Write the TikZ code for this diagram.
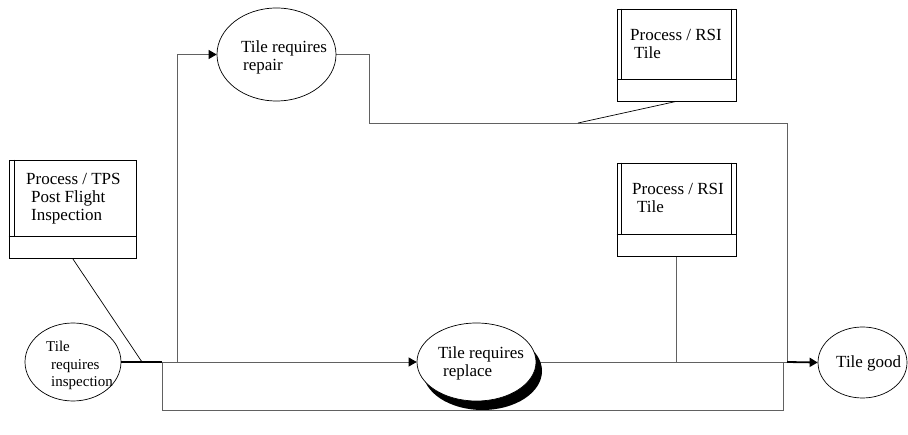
\documentclass[tikz,border=0pt]{standalone}
\usepackage{fontspec}
\setmainfont{Liberation Serif}
\usetikzlibrary{arrows.meta,shapes.geometric,shadows,calc}
\pgfdeclarelayer{bg}
\pgfsetlayers{bg,main}
\begin{document}
\begin{tikzpicture}[x=1pt,y=-1pt,
  procbox/.style={draw=black,line width=0.7pt,fill=white,rectangle,inner sep=0pt},
  oval/.style={draw=black,line width=0.7pt,fill=white,ellipse,inner sep=0pt},
  conn/.style={draw=black!62,line width=0.9pt},
  thinc/.style={draw=black,line width=0.7pt},
  thickc/.style={draw=black,line width=1.8pt},
  arr/.style={-{Triangle[length=8pt,width=9pt,color=black]}},
  lbl/.style={anchor=base west,inner sep=0pt,font=\fontsize{17}{18}\selectfont},
  slbl/.style={anchor=base west,inner sep=0pt,font=\fontsize{15}{17}\selectfont}]
\useasboundingbox (0,0) rectangle (908,435);

% process boxes
\node[procbox,minimum width=127pt,minimum height=98pt] (tps) at (72.5,209) {};
\node[procbox,minimum width=119pt,minimum height=92pt] (rsia) at (676.5,55) {};
\node[procbox,minimum width=119pt,minimum height=93pt] (rsib) at (676.5,209.5) {};

\draw[thinc] ($(tps.south west)+(0,-22)$) -- ($(tps.south east)+(0,-22)$);
\draw[thinc] ($(tps.north west)+(6,0)$) -- ($(tps.south west)+(6,-22)$);
\foreach \b in {rsia,rsib}{
  \draw[thinc] ($(\b.south west)+(0,-22)$) -- ($(\b.south east)+(0,-22)$);
  \draw[thinc] ($(\b.north west)+(5,0)$) -- ($(\b.south west)+(5,-22)$);
  \draw[thinc] ($(\b.north east)+(-5,0)$) -- ($(\b.south east)+(-5,-22)$);
}

% ellipses
\node[oval,minimum width=96pt,minimum height=78pt] (insp) at (73,362) {};
\node[oval,minimum width=119pt,minimum height=93pt] (repair) at (276.5,54.5) {};
\node[oval,minimum width=119pt,minimum height=78pt,
      drop shadow={shadow xshift=6pt,shadow yshift=-9pt,fill=black,opacity=1}] (rep) at (476.5,362) {};
\node[oval,minimum width=89pt,minimum height=71pt] (good) at (862.5,362.5) {};

% labels
\node[lbl] (t1) at (26,185) {Process / TPS};
\node[lbl] (t2) at (31,203) {Post Flight};
\node[lbl] (t3) at (31,221) {Inspection};
\node[slbl] (t4) at (46,352) {Tile};
\node[slbl] (t5) at (51,370) {requires};
\node[slbl] (t6) at (51,387) {inspection};
\node[lbl] (t7) at (241,53) {Tile requires};
\node[lbl] (t8) at (243,71) {repair};
\node[lbl] (t9) at (630,41) {Process / RSI};
\node[lbl] (t10) at (634,59) {Tile};
\node[lbl] (t11) at (632,195) {Process / RSI};
\node[lbl] (t12) at (637,213) {Tile};
\node[lbl] (t13) at (438,359) {Tile requires};
\node[lbl] (t14) at (443,377) {replace};
\node[lbl] (t15) at (836,368) {Tile good};

% junction coordinates
\coordinate (j1) at (142,362);
\coordinate (j2) at (162,362);
\coordinate (j3) at (177,362);
\coordinate (c2) at (369,123);
\coordinate (c3) at (787,123);
\coordinate (d1) at (578,123);
\coordinate (j5) at (676.5,362);
\coordinate (j6) at (787,362);
\coordinate (j7) at (783,362);
\coordinate (b1) at (162,410);
\coordinate (b2) at (783,410);

\begin{pgfonlayer}{bg}
\draw[thinc] (tps.south) -- (j1);
\draw[conn] (j2) -- (j3);
\draw[conn,arr] (j3) |- (repair.west);
\draw[conn,arr] (j3) -- (rep.west);
\draw[conn] (repair.east) -| (c2) -- (c3) -- (j6);
\draw[thinc] (rsia.south) -- (d1);
\draw[conn] (rsib.south) -- (j5);
\draw[conn] (rep.east) -- (j6);
\draw[conn] (j2) -- (b1) -- (b2) -- (j7);
\draw[thickc] (insp.east) -- (j2);
\draw[thickc,arr] (j6) -- (good.west);
\end{pgfonlayer}
\end{tikzpicture}
\end{document}
